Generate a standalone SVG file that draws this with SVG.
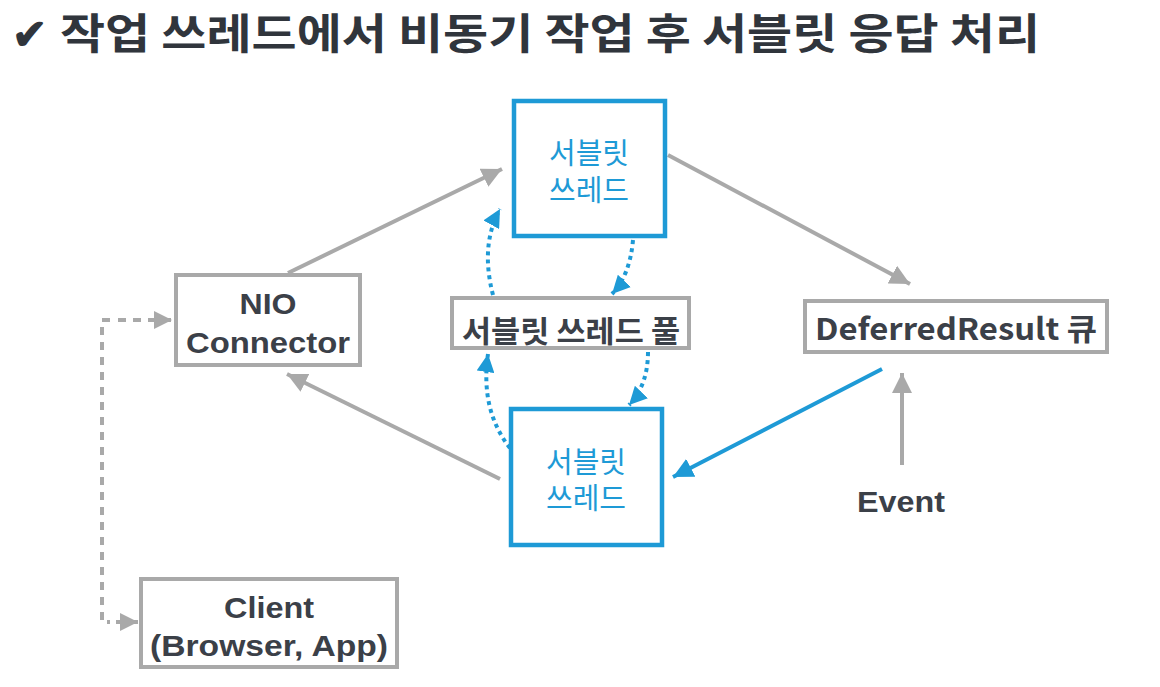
<svg xmlns="http://www.w3.org/2000/svg" width="1160" height="687" viewBox="0 0 1160 687">
<style>
.title{font-family:"Noto Sans CJK KR","Liberation Sans",sans-serif;font-size:42px;font-weight:bold;fill:#30353c}
.gbox{fill:#fff;stroke:#a9a9a9;stroke-width:4}
.bbox{fill:#fff;stroke:#1e9ad6;stroke-width:4.5}
.lbl{font-family:"Noto Sans CJK KR","Liberation Sans",sans-serif;font-size:30px;font-weight:bold;fill:#3b4048;text-anchor:middle}
.lat{font-family:"Liberation Sans","Noto Sans CJK KR",sans-serif;font-size:30px;font-weight:bold;fill:#3b4048;text-anchor:middle}
.blbl{font-family:"Noto Sans CJK KR","Liberation Sans",sans-serif;font-size:29px;fill:#1e9ad6;text-anchor:middle}
.g{stroke:#a9a9a9;stroke-width:4;fill:none}
.b{stroke:#1e9ad6;stroke-width:4;fill:none}
.gd{stroke:#a9a9a9;stroke-width:4;fill:none;stroke-dasharray:8 7}
.bd{stroke:#1e9ad6;stroke-width:4;fill:none;stroke-dasharray:4 4}
</style>
<defs>
<marker id="ag" markerUnits="userSpaceOnUse" markerWidth="22" markerHeight="20" refX="20" refY="10" orient="auto"><path d="M0,0 L20,10 L0,20 Z" fill="#a9a9a9"/></marker>
<marker id="ab" markerUnits="userSpaceOnUse" markerWidth="22" markerHeight="20" refX="20" refY="10" orient="auto"><path d="M0,0 L20,10 L0,20 Z" fill="#1e9ad6"/></marker>
<marker id="agd" markerUnits="userSpaceOnUse" markerWidth="20" markerHeight="18" refX="18" refY="9" orient="auto"><path d="M0,0 L18,9 L0,18 Z" fill="#a9a9a9"/></marker>
<marker id="abd" markerUnits="userSpaceOnUse" markerWidth="20" markerHeight="18" refX="18" refY="9" orient="auto"><path d="M0,0 L18,9 L0,18 Z" fill="#1e9ad6"/></marker>
</defs>
<rect width="1160" height="687" fill="#fff"/>
<text class="title" x="12" y="49">✔</text>
<text class="title" x="60" y="49" textLength="980" lengthAdjust="spacingAndGlyphs">작업 쓰레드에서 비동기 작업 후 서블릿 응답 처리</text>

<g id="connectors">
<line class="g" x1="288" y1="273" x2="502" y2="169" marker-end="url(#ag)"/>
<line class="g" x1="668" y1="155" x2="910" y2="284" marker-end="url(#ag)"/>
<line class="g" x1="500" y1="479" x2="287" y2="374" marker-end="url(#ag)"/>
<line class="b" x1="882" y1="369" x2="673" y2="477" marker-end="url(#ab)"/>
<line class="g" x1="902" y1="465" x2="902" y2="373" marker-end="url(#ag)"/>
<polyline class="gd" points="110,320 102,320 102,622 110,622"/>
<path class="gd" d="M118,320 L172,320" marker-end="url(#agd)"/>
<path class="g" d="M116,622 L138,622" marker-end="url(#agd)"/>
<path class="bd" d="M633,240 Q630,275 612,294" marker-end="url(#abd)"/>
<path class="bd" d="M493,295 Q480,245 500,209" marker-end="url(#abd)"/>
<path class="bd" d="M648,352 Q648,385 629,405" marker-end="url(#abd)"/>
<path class="bd" d="M510,448 Q480,410 488,354" marker-end="url(#abd)"/>
</g>

<g id="nio">
<rect class="gbox" x="176" y="275" width="184" height="90"/>
<text class="lat" x="268" y="314" textLength="57" lengthAdjust="spacingAndGlyphs">NIO</text>
<text class="lat" x="268" y="353" textLength="164" lengthAdjust="spacingAndGlyphs">Connector</text>
</g>
<g id="servlet-top">
<rect class="bbox" x="514" y="101" width="151" height="135"/>
<text class="blbl" x="589" y="164">서블릿</text>
<text class="blbl" x="589" y="201">쓰레드</text>
</g>
<g id="pool">
<rect class="gbox" x="452" y="298" width="237" height="50"/>
<text class="lbl" x="571" y="342" textLength="218" lengthAdjust="spacingAndGlyphs">서블릿 쓰레드 풀</text>
</g>
<g id="deferred">
<rect class="gbox" x="805" y="301" width="302" height="51"/>
<text class="lbl" x="956" y="340" textLength="282" lengthAdjust="spacingAndGlyphs">DeferredResult 큐</text>
</g>
<g id="servlet-bottom">
<rect class="bbox" x="511" y="409" width="151" height="136"/>
<text class="blbl" x="586" y="473">서블릿</text>
<text class="blbl" x="586" y="509">쓰레드</text>
</g>
<g id="event">
<text class="lat" x="901" y="512" textLength="88" lengthAdjust="spacingAndGlyphs">Event</text>
</g>
<g id="client">
<rect class="gbox" x="141" y="579" width="256" height="88"/>
<text class="lat" x="269" y="618" textLength="90" lengthAdjust="spacingAndGlyphs">Client</text>
<text class="lat" x="269" y="656" textLength="238" lengthAdjust="spacingAndGlyphs">(Browser, App)</text>
</g>
</svg>
